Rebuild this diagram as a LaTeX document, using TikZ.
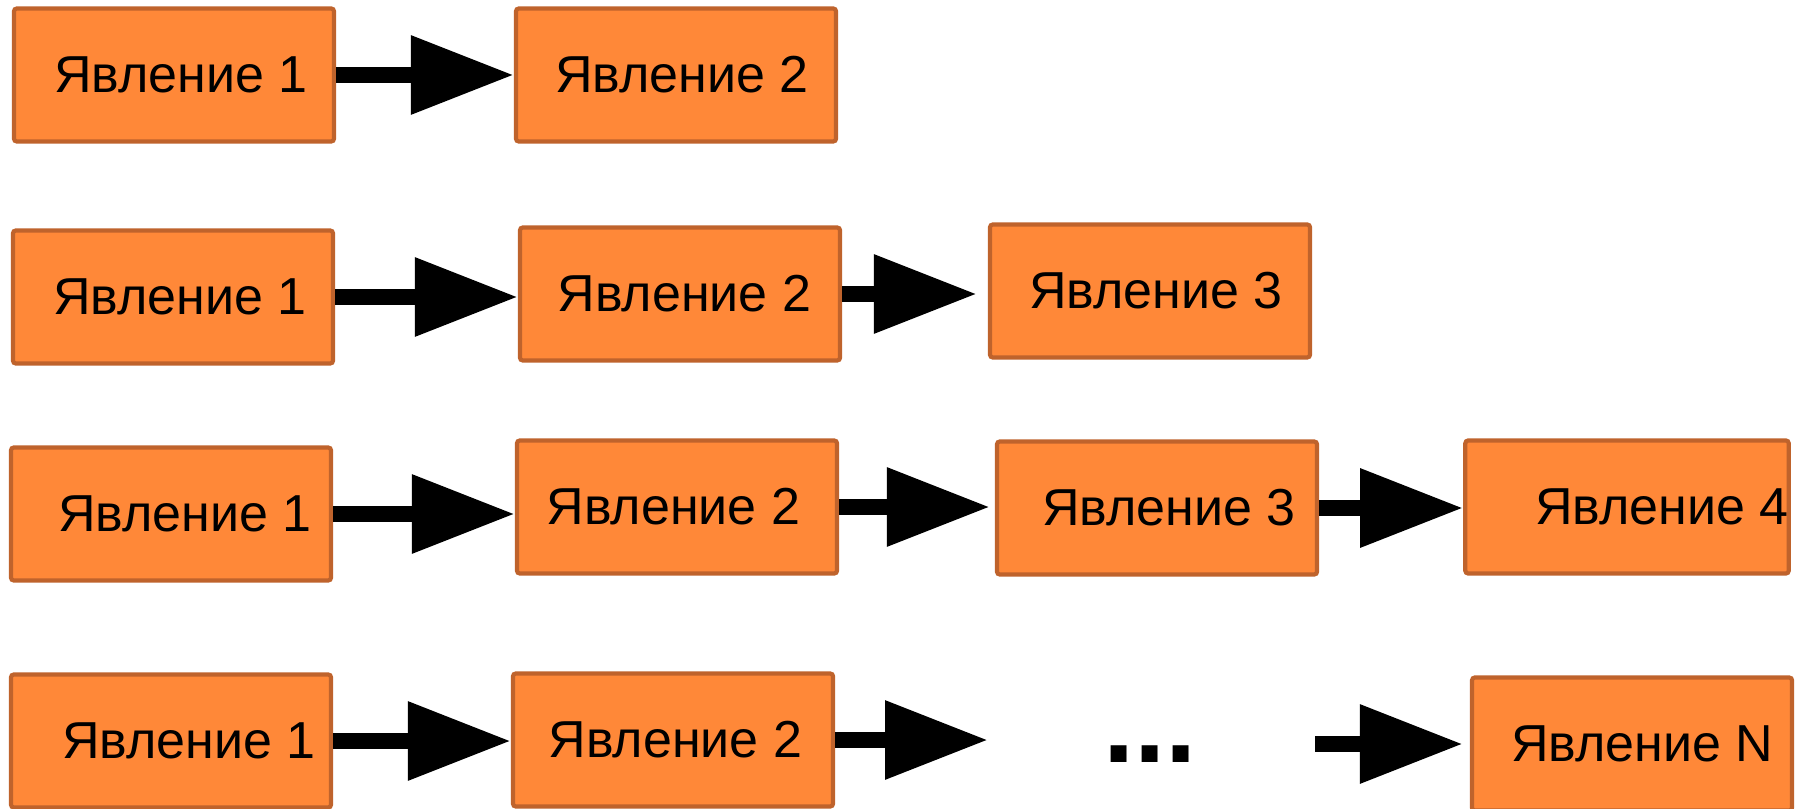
\documentclass[tikz,border=0pt]{standalone}
\usepackage{fontspec}
\setmainfont{Liberation Sans}
\usetikzlibrary{arrows.meta}
\definecolor{boxfill}{HTML}{FF8838}
\definecolor{boxline}{HTML}{BF632C}
\tikzset{
  box/.style={draw=boxline, fill=boxfill, line width=1.2pt, rounded corners=0.8pt,
    minimum width=3.2cm, minimum height=1.33cm, inner sep=0pt,
    font=\fontsize{14.8pt}{17pt}\selectfont},
  arr/.style={line width=0.16cm, -{Triangle[length=1.03cm, width=0.75cm]}}
}
\begin{document}
\begin{tikzpicture}
      \useasboundingbox (0,0) rectangle (18.08,8.08);
      \clip (0,0) rectangle (18.08,8.08);
      \draw
        (1.74,7.33) node[box] (a1){\hspace*{0.14cm}Явление 1}
        (6.76,7.33) node[box] (a2){\hspace*{0.12cm}Явление 2}
        (1.73,5.11) node[box] (b1){\hspace*{0.14cm}Явление 1}
        (6.80,5.14) node[box] (b2){\hspace*{0.09cm}Явление 2}
        (11.50,5.17) node[box] (b3){\hspace*{0.12cm}Явление 3}
        (1.71,2.94) node[box] (c1){\hspace*{0.28cm}Явление 1}
        (6.77,3.01) node[box] (c2){\hspace*{-0.07cm}Явление 2}
        (11.57,3.00) node[box] (c3){\hspace*{0.24cm}Явление 3}
        (16.27,3.01) node[box] (c4){\hspace*{0.7cm}Явление 4}
        (1.71,0.67) node[box] (d1){\hspace*{0.36cm}Явление 1}
        (6.73,0.68) node[box] (d2){\hspace*{0.05cm}Явление 2}
        (16.32,0.64) node[box] (dn){\hspace*{0.2cm}Явление N};
      \node[anchor=base, font=\fontsize{32pt}{34pt}\selectfont\bfseries] (dots) at (11.50,0.46) {...};
      \coordinate (d3) at (9.88,0.68);
      \coordinate (d4) at (13.15,0.64);
      \begin{scope}[arr]
        \draw (a1.east) -- (a1.east -| a2.west);
        \draw (b1.east) -- (b1.east -| b2.west);
        \draw[shorten >=0.11cm] (b2.east) -- (b2.east -| b3.west);
        \draw (c1.east) -- (c1.east -| c2.west);
        \draw[shorten >=0.05cm] (c2.east) -- (c2.east -| c3.west);
        \draw (c3.east) -- (c3.east -| c4.west);
        \draw (d1.east) -- (d1.east -| d2.west);
        \draw (d2.east) -- (d3);
        \draw[shorten >=0.07cm] (d4) -- (d4 -| dn.west);
      \end{scope}
    \end{tikzpicture}
\end{document}
